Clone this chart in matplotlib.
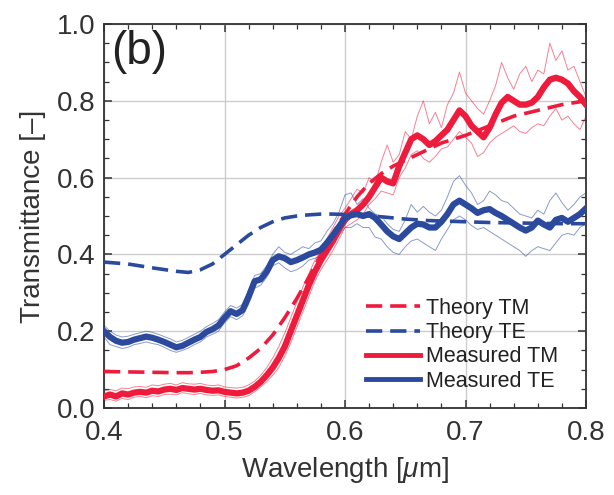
import matplotlib
matplotlib.use("Agg")
import matplotlib.pyplot as plt
from matplotlib.ticker import MultipleLocator

plt.rcParams['font.family'] = ['Liberation Sans', 'DejaVu Sans']
plt.rcParams['mathtext.fontset'] = 'custom'
plt.rcParams['mathtext.rm'] = 'Liberation Sans'
plt.rcParams['mathtext.it'] = 'Liberation Sans:italic'

# ---------------- data ----------------
wl_theory = [0.40, 0.42, 0.44, 0.46, 0.47, 0.48, 0.49, 0.50, 0.51, 0.52, 0.53, 0.54,
             0.55, 0.56, 0.57, 0.58, 0.59, 0.60, 0.61, 0.62, 0.63, 0.64, 0.65, 0.66,
             0.67, 0.68, 0.69, 0.70, 0.72, 0.74, 0.76, 0.78, 0.80]
theory_tm = [0.095, 0.094, 0.093, 0.092, 0.092, 0.093, 0.095, 0.100, 0.110, 0.130, 0.155, 0.190,
             0.235, 0.285, 0.340, 0.400, 0.455, 0.505, 0.550, 0.585, 0.610, 0.630, 0.645, 0.660,
             0.675, 0.690, 0.700, 0.710, 0.735, 0.760, 0.775, 0.790, 0.800]
theory_te = [0.380, 0.375, 0.365, 0.356, 0.353, 0.360, 0.375, 0.400, 0.425, 0.450, 0.470, 0.485,
             0.495, 0.500, 0.503, 0.505, 0.505, 0.504, 0.502, 0.500, 0.498, 0.495, 0.492, 0.490,
             0.488, 0.487, 0.486, 0.485, 0.483, 0.482, 0.481, 0.480, 0.480]

wl_meas = [0.400, 0.405, 0.410, 0.415, 0.420, 0.425, 0.430, 0.435, 0.440, 0.445,
           0.450, 0.455, 0.460, 0.465, 0.470, 0.475, 0.480, 0.485, 0.490, 0.495,
           0.500, 0.505, 0.510, 0.515, 0.520, 0.525, 0.530, 0.535, 0.540, 0.545,
           0.550, 0.555, 0.560, 0.565, 0.570, 0.575, 0.580, 0.585, 0.590, 0.595,
           0.600, 0.605, 0.610, 0.615, 0.620, 0.625, 0.630, 0.635, 0.640, 0.645,
           0.650, 0.655, 0.660, 0.665, 0.670, 0.675, 0.680, 0.685, 0.690, 0.695,
           0.700, 0.705, 0.710, 0.715, 0.720, 0.725, 0.730, 0.735, 0.740, 0.745,
           0.750, 0.755, 0.760, 0.765, 0.770, 0.775, 0.780, 0.785, 0.790, 0.795,
           0.800]

meas_tm = [0.030, 0.035, 0.030, 0.038, 0.035, 0.040, 0.042, 0.040, 0.045, 0.043,
           0.048, 0.050, 0.047, 0.052, 0.050, 0.048, 0.050, 0.047, 0.045, 0.046,
           0.042, 0.040, 0.038, 0.040, 0.045, 0.055, 0.068, 0.085, 0.105, 0.130,
           0.160, 0.200, 0.240, 0.280, 0.320, 0.355, 0.385, 0.410, 0.435, 0.465,
           0.490, 0.505, 0.515, 0.530, 0.550, 0.575, 0.600, 0.590, 0.585, 0.630,
           0.665, 0.700, 0.710, 0.700, 0.685, 0.695, 0.710, 0.725, 0.750, 0.775,
           0.760, 0.735, 0.720, 0.705, 0.730, 0.765, 0.795, 0.810, 0.800, 0.790,
           0.790, 0.795, 0.810, 0.835, 0.855, 0.860, 0.855, 0.845, 0.825, 0.810,
           0.790]
meas_tm_hi = [0.045, 0.048, 0.045, 0.052, 0.050, 0.055, 0.056, 0.054, 0.060, 0.058,
              0.062, 0.064, 0.060, 0.066, 0.063, 0.062, 0.064, 0.060, 0.058, 0.060,
              0.055, 0.053, 0.052, 0.054, 0.060, 0.070, 0.085, 0.105, 0.130, 0.160,
              0.195, 0.235, 0.275, 0.315, 0.350, 0.385, 0.410, 0.440, 0.470, 0.500,
              0.520, 0.545, 0.570, 0.560, 0.600, 0.585, 0.640, 0.685, 0.640, 0.660,
              0.720, 0.700, 0.760, 0.800, 0.740, 0.770, 0.730, 0.790, 0.820, 0.875,
              0.820, 0.800, 0.780, 0.765, 0.800, 0.840, 0.900, 0.860, 0.830, 0.870,
              0.890, 0.850, 0.880, 0.870, 0.950, 0.905, 0.930, 0.880, 0.890, 0.850,
              0.810]
meas_tm_lo = [0.020, 0.022, 0.018, 0.025, 0.022, 0.028, 0.030, 0.027, 0.032, 0.030,
              0.035, 0.036, 0.034, 0.040, 0.037, 0.035, 0.038, 0.034, 0.033, 0.034,
              0.030, 0.028, 0.026, 0.028, 0.032, 0.042, 0.055, 0.068, 0.085, 0.105,
              0.135, 0.170, 0.210, 0.250, 0.290, 0.330, 0.360, 0.385, 0.410, 0.440,
              0.470, 0.480, 0.490, 0.505, 0.530, 0.545, 0.565, 0.560, 0.555, 0.600,
              0.625, 0.660, 0.670, 0.650, 0.640, 0.655, 0.675, 0.680, 0.700, 0.720,
              0.705, 0.690, 0.655, 0.665, 0.690, 0.705, 0.715, 0.725, 0.735, 0.720,
              0.715, 0.730, 0.740, 0.735, 0.760, 0.780, 0.750, 0.760, 0.740, 0.725,
              0.760]

meas_te = [0.200, 0.185, 0.175, 0.170, 0.172, 0.178, 0.182, 0.186, 0.183, 0.178,
           0.172, 0.165, 0.158, 0.162, 0.170, 0.178, 0.185, 0.198, 0.205, 0.215,
           0.235, 0.252, 0.245, 0.255, 0.290, 0.330, 0.335, 0.355, 0.385, 0.395,
           0.390, 0.380, 0.385, 0.392, 0.400, 0.405, 0.412, 0.430, 0.450, 0.472,
           0.495, 0.502, 0.505, 0.500, 0.505, 0.495, 0.478, 0.460, 0.447, 0.440,
           0.455, 0.470, 0.480, 0.478, 0.470, 0.470, 0.485, 0.505, 0.530, 0.540,
           0.530, 0.520, 0.508, 0.515, 0.518, 0.508, 0.500, 0.490, 0.480, 0.470,
           0.462, 0.470, 0.488, 0.478, 0.470, 0.490, 0.495, 0.485, 0.495, 0.505,
           0.520]
meas_te_hi = [0.215, 0.200, 0.190, 0.185, 0.187, 0.192, 0.196, 0.200, 0.197, 0.192,
              0.186, 0.180, 0.172, 0.176, 0.184, 0.192, 0.200, 0.212, 0.220, 0.230,
              0.250, 0.267, 0.260, 0.270, 0.305, 0.345, 0.350, 0.370, 0.400, 0.420,
              0.405, 0.400, 0.410, 0.420, 0.415, 0.430, 0.435, 0.460, 0.480, 0.510,
              0.555, 0.560, 0.530, 0.545, 0.520, 0.505, 0.500, 0.480, 0.465, 0.460,
              0.490, 0.530, 0.510, 0.525, 0.510, 0.500, 0.515, 0.550, 0.590, 0.605,
              0.580, 0.560, 0.530, 0.540, 0.565, 0.555, 0.540, 0.535, 0.520, 0.505,
              0.500, 0.495, 0.515, 0.505, 0.540, 0.560, 0.535, 0.515, 0.530, 0.550,
              0.560]
meas_te_lo = [0.185, 0.165, 0.160, 0.155, 0.158, 0.165, 0.168, 0.172, 0.168, 0.165,
              0.158, 0.150, 0.145, 0.150, 0.156, 0.165, 0.172, 0.185, 0.192, 0.200,
              0.222, 0.238, 0.230, 0.240, 0.270, 0.312, 0.320, 0.340, 0.370, 0.378,
              0.365, 0.355, 0.360, 0.370, 0.385, 0.390, 0.395, 0.410, 0.430, 0.450,
              0.470, 0.470, 0.480, 0.470, 0.470, 0.445, 0.440, 0.420, 0.405, 0.400,
              0.420, 0.435, 0.440, 0.430, 0.420, 0.410, 0.440, 0.465, 0.490, 0.500,
              0.490, 0.475, 0.465, 0.470, 0.460, 0.450, 0.440, 0.430, 0.420, 0.410,
              0.395, 0.410, 0.420, 0.415, 0.410, 0.430, 0.450, 0.455, 0.450, 0.470,
              0.480]

labels = ["Theory TM", "Theory TE", "Measured TM", "Measured TE"]
xticks = [0.4, 0.5, 0.6, 0.7, 0.8]
yticks = [0.0, 0.2, 0.4, 0.6, 0.8, 1.0]

RED = "#EE1B3C"
BLUE = "#2B4A9E"

# ---------------- figure ----------------
fig = plt.figure(figsize=(6.14, 4.95), dpi=100)
ax = fig.add_axes([104/614, (495-408)/495, (586-104)/614, (408-24)/495])

# thin noisy traces
ax.plot(wl_meas, meas_tm_hi, color=RED, lw=0.7, alpha=0.55, zorder=2)
ax.plot(wl_meas, meas_tm_lo, color=RED, lw=0.7, alpha=0.55, zorder=2)
ax.plot(wl_meas, meas_te_hi, color=BLUE, lw=0.7, alpha=0.55, zorder=2)
ax.plot(wl_meas, meas_te_lo, color=BLUE, lw=0.7, alpha=0.55, zorder=2)

# theory
l1, = ax.plot(wl_theory, theory_tm, color=RED, lw=2.6, dashes=(4.5, 2.2), zorder=3)
l2, = ax.plot(wl_theory, theory_te, color=BLUE, lw=2.6, dashes=(4.5, 2.2), zorder=3)
# measured thick
l3, = ax.plot(wl_meas, meas_tm, color=RED, lw=4.5, zorder=4, solid_joinstyle='round')
l4, = ax.plot(wl_meas, meas_te, color=BLUE, lw=4.5, zorder=4, solid_joinstyle='round')

ax.set_xlim(0.4, 0.8)
ax.set_ylim(0.0, 1.0)
ax.set_xticks(xticks)
ax.set_yticks(yticks)
ax.set_xticklabels([f"{v:.1f}" for v in xticks])
ax.set_yticklabels([f"{v:.1f}" for v in yticks])
ax.xaxis.set_minor_locator(MultipleLocator(0.02))
ax.yaxis.set_minor_locator(MultipleLocator(0.05))
ax.grid(True, which='major', color='#CCCCCC', lw=1.0, zorder=0)
ax.set_axisbelow(True)

ax.tick_params(which='both', direction='in', top=True, right=True, colors='#333333')
ax.tick_params(which='major', length=6, width=1.1, labelsize=20, pad=6, labelcolor='#333333')
ax.tick_params(which='minor', length=3.5, width=0.9)
ax.tick_params(axis='x', which='major', pad=9)
for s in ax.spines.values():
    s.set_linewidth(1.3)
    s.set_color('#333333')

ax.set_xlabel(r"Wavelength [$\mu$m]", fontsize=20, color='#333333', labelpad=6)
ax.set_ylabel("Transmittance [–]", fontsize=20, color='#333333', labelpad=8)

ax.text(0.015, 0.985, "(b)", transform=ax.transAxes, fontsize=33, va='top', ha='left',
        color='#222222')

h3 = plt.Line2D([], [], color=RED, lw=3.5)
h4 = plt.Line2D([], [], color=BLUE, lw=3.5)
leg = ax.legend([l1, l2, h3, h4], labels, loc='lower right', bbox_to_anchor=(0.96, 0.02),
                frameon=False, fontsize=15.5, handlelength=2.5, handletextpad=0.3,
                labelspacing=0.15, borderaxespad=0.0)
for t in leg.get_texts():
    t.set_color('#222222')

fig.savefig("out.png", dpi=100)
